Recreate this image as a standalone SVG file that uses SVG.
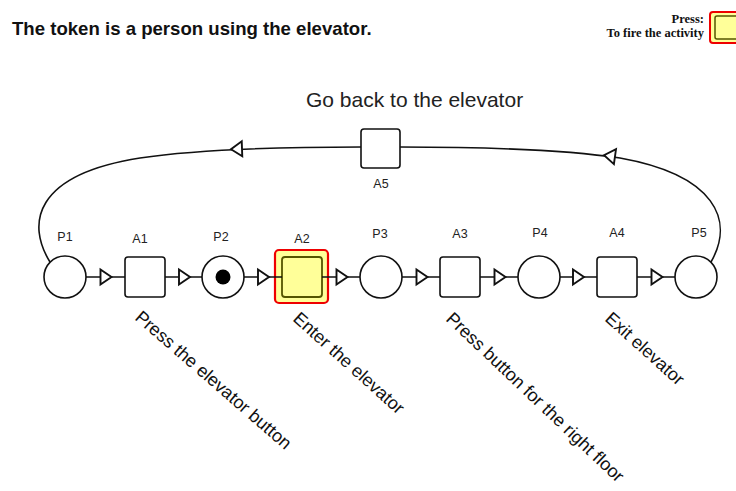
<svg xmlns="http://www.w3.org/2000/svg" width="736" height="491" viewBox="0 0 736 491">
<defs>
<style>
.lbl{font-family:"Liberation Sans",Arial,sans-serif;font-size:12.5px;fill:#222;text-anchor:middle}
.diag{font-family:"Liberation Sans",Arial,sans-serif;font-size:18px;fill:#111}
.place{fill:#fff;stroke:#111;stroke-width:1.6}
.trans{fill:#fff;stroke:#111;stroke-width:1.6}
.edge{fill:none;stroke:#111;stroke-width:1.6}
.arr{fill:#fff;stroke:#111;stroke-width:1.9;stroke-linejoin:miter}
.legend{font-family:"Liberation Serif","Times New Roman",serif;font-weight:bold;font-size:12.5px;fill:#111;text-anchor:end}
</style>
<path id="tri" d="M-5,-7.5 L6,0 L-5,7.5 Z"/>
</defs>
<rect width="736" height="491" fill="#fff"/>
<text x="12" y="35" style="font-family:'Liberation Sans',Arial,sans-serif;font-weight:bold;font-size:18.6px;fill:#111">The token is a person using the elevator.</text>
<g id="legend">
<text class="legend" x="704" y="23">Press:</text>
<text class="legend" x="704" y="37">To fire the activity</text>
<rect x="710" y="12" width="34" height="31" rx="3" fill="#ffff99" stroke="#ee0000" stroke-width="2"/>
<rect x="715" y="16" width="28" height="23" rx="2" fill="#ffff99" stroke="#555500" stroke-width="1.5"/>
</g>
<text x="306" y="107" style="font-family:'Liberation Sans',Arial,sans-serif;font-size:21px;fill:#222">Go back to the elevator</text>
<g id="P1"><circle class="place" cx="65" cy="277" r="21"/><text class="lbl" x="65" y="241">P1</text></g>
<g id="A1"><rect class="trans" x="125" y="257" width="40" height="40" rx="3"/><text class="lbl" x="140" y="243">A1</text>
<text class="diag" transform="translate(134,319) rotate(41)">Press the elevator button</text></g>
<g id="P2"><circle class="place" cx="223" cy="277" r="21"/><circle cx="223" cy="277" r="7.5" fill="#000"/><text class="lbl" x="221" y="241">P2</text></g>
<g id="A2"><rect x="275" y="250" width="53" height="53" rx="4" fill="#ffff99" stroke="#ee0000" stroke-width="2.2"/>
<rect x="282" y="257" width="40" height="40" rx="3" fill="#ffff99" stroke="#555500" stroke-width="1.8"/>
<text class="lbl" x="302" y="243">A2</text>
<text class="diag" transform="translate(292,320) rotate(42)">Enter the elevator</text></g>
<g id="P3"><circle class="place" cx="381" cy="277" r="21"/><text class="lbl" x="380" y="238">P3</text></g>
<g id="A3"><rect class="trans" x="440" y="257" width="40" height="40" rx="3"/><text class="lbl" x="460" y="238">A3</text>
<text class="diag" transform="translate(445,320) rotate(43.5)">Press button for the right floor</text></g>
<g id="P4"><circle class="place" cx="539" cy="277" r="21"/><text class="lbl" x="540" y="237">P4</text></g>
<g id="A4"><rect class="trans" x="597" y="257" width="40" height="40" rx="3"/><text class="lbl" x="617" y="237">A4</text>
<text class="diag" transform="translate(604,320) rotate(42)">Exit elevator</text></g>
<g id="P5"><circle class="place" cx="696" cy="277" r="21"/><text class="lbl" x="699" y="237">P5</text></g>
<g id="A5"><rect class="trans" x="361" y="129" width="39" height="39" rx="3"/><text class="lbl" x="381" y="188">A5</text></g>
<g id="connectors">
<path class="edge" d="M86,277H125M165,277H202M244,277H282M322,277H360M402,277H440M480,277H518M560,277H597M637,277H675"/>
<path class="edge" d="M711,262 C735,220 715,175 620,158 C560,149 460,147 400,147"/>
<path class="edge" d="M361,147 C300,147 200,149 140,158 C32,175 27,225 50,262"/>
<use href="#tri" class="arr" x="105.5" y="277"/>
<use href="#tri" class="arr" x="184" y="277"/>
<use href="#tri" class="arr" x="263" y="277"/>
<use href="#tri" class="arr" x="341.5" y="277"/>
<use href="#tri" class="arr" x="421.5" y="277"/>
<use href="#tri" class="arr" x="499.5" y="277"/>
<use href="#tri" class="arr" x="578" y="277"/>
<use href="#tri" class="arr" x="656.5" y="277"/>
<use href="#tri" class="arr" transform="translate(237,149) rotate(178)"/>
<use href="#tri" class="arr" transform="translate(610,156) rotate(-172)"/>
</g>
</svg>
